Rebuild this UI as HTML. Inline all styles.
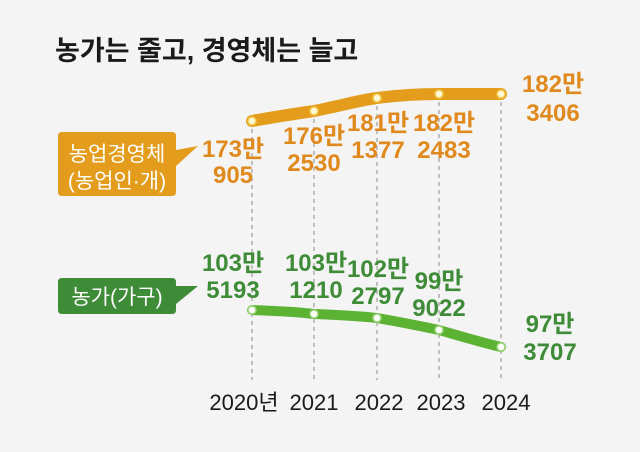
<!DOCTYPE html>
<html><head><meta charset="utf-8"><style>
html,body{margin:0;padding:0;background:#f4f4f4;}
svg{display:block}
text{font-family:"Liberation Sans","Noto Sans CJK KR",sans-serif;}
</style></head><body>
<svg width="640" height="452" viewBox="0 0 640 452">
<rect width="640" height="452" fill="#f4f4f4"/>
<text x="55" y="60" font-size="27" font-weight="bold" fill="#1a1a1a">농가는 줄고, 경영체는 늘고</text>
<g stroke="#8a8a8a" stroke-width="1" stroke-dasharray="4,4">
<line x1="252" y1="121" x2="252" y2="380"/>
<line x1="314" y1="111" x2="314" y2="380"/>
<line x1="377" y1="98" x2="377" y2="380"/>
<line x1="439" y1="94" x2="439" y2="380"/>
<line x1="501" y1="94" x2="501" y2="380"/>
</g>
<path d="M252 121 C280 116,300 113,314 111 C340 106,360 100,377 98 C400 95,420 94,439 94 L501 94" fill="none" stroke="#e39c1c" stroke-width="12" stroke-linecap="round"/>
<path d="M252 310 C280 311,300 312,314 314 C340 315,360 316,377 318 C400 322,420 326,439 330 C460 336,480 342,501 347" fill="none" stroke="#5cb233" stroke-width="10" stroke-linecap="round"/>
<g fill="#fff8d8" stroke="#f3c84a" stroke-width="1.5">
<circle cx="252" cy="121" r="4"/><circle cx="314" cy="111" r="4"/><circle cx="377" cy="98" r="4"/><circle cx="439" cy="94" r="4"/><circle cx="501" cy="94" r="4"/>
</g>
<g fill="#ffffff" stroke="#9cd47a" stroke-width="1.5">
<circle cx="252" cy="310" r="4"/><circle cx="314" cy="314" r="4"/><circle cx="377" cy="318" r="4"/><circle cx="439" cy="330" r="4"/><circle cx="501" cy="347" r="4"/>
</g>
<path d="M62 132 H172 Q176 132 176 136 V150 L198 146 L176 166 V192 Q176 196 172 196 H62 Q58 196 58 192 V136 Q58 132 62 132Z" fill="#e39c1c"/>
<text x="117" y="161" font-size="21" fill="#fff" text-anchor="middle">농업경영체</text>
<text x="117" y="188" font-size="21" fill="#fff" text-anchor="middle">(농업인·개)</text>
<path d="M62 278 H172 Q176 278 176 282 V286 L198 286 L176 304 V310 Q176 314 172 314 H62 Q58 314 58 310 V282 Q58 278 62 278Z" fill="#3f8c38"/>
<text x="117" y="304" font-size="21" fill="#fff" text-anchor="middle">농가(가구)</text>
<g font-size="24" font-weight="bold" fill="#e0891c" text-anchor="middle">
<text x="233" y="157">173만</text><text x="233" y="183">905</text>
<text x="314" y="144">176만</text><text x="314" y="171">2530</text>
<text x="378" y="131">181만</text><text x="378" y="158">1377</text>
<text x="444" y="131">182만</text><text x="444" y="158">2483</text>
<text x="553" y="92">182만</text><text x="553" y="121">3406</text>
</g>
<g font-size="24" font-weight="bold" fill="#3f8c38" text-anchor="middle">
<text x="233" y="271">103만</text><text x="233" y="298">5193</text>
<text x="316" y="271">103만</text><text x="316" y="298">1210</text>
<text x="378" y="277">102만</text><text x="378" y="304">2797</text>
<text x="439" y="289">99만</text><text x="439" y="316">9022</text>
<text x="550" y="332">97만</text><text x="550" y="360">3707</text>
</g>
<g font-size="22" fill="#1a1a1a" text-anchor="middle">
<text x="244" y="410">2020년</text>
<text x="314" y="410">2021</text>
<text x="379" y="410">2022</text>
<text x="441" y="410">2023</text>
<text x="506" y="410">2024</text>
</g>
</svg>
</body></html>
